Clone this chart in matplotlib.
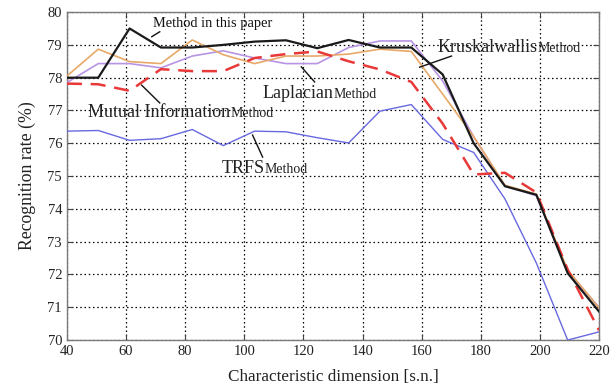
import matplotlib
matplotlib.use("Agg")
import matplotlib.pyplot as plt

plt.rcParams['font.family'] = ['Liberation Serif', 'DejaVu Serif']

dims = [40, 50.6, 61.2, 71.8, 82.4, 92.9, 103.5, 114.1, 124.7, 135.3,
        145.9, 156.5, 167.1, 177.6, 188.2, 198.8, 209.4, 220]

proposed = [78.0, 78.0, 79.5, 78.92, 78.92, 79.0, 79.1, 79.14, 78.9, 79.15,
            78.92, 78.92, 78.1, 76.0, 74.69, 74.43, 72.04, 70.87]
kruskal = [78.05, 78.87, 78.49, 78.43, 79.15, 78.7, 78.43, 78.66, 78.66, 78.72,
           78.87, 78.8, 77.5, 76.2, 74.72, 74.45, 72.14, 70.98]
laplacian = [77.85, 78.43, 78.43, 78.3, 78.66, 78.82, 78.6, 78.43, 78.43, 78.92,
             79.12, 79.12, 77.9, 76.2, 74.7, 74.4, 72.1, 71.0]
mutual = [77.82, 77.8, 77.6, 78.26, 78.2, 78.2, 78.6, 78.72, 78.8, 78.5,
          78.25, 77.87, 76.6, 75.05, 75.1, 74.5, 72.15, 70.3]
trfs = [76.37, 76.39, 76.09, 76.14, 76.42, 75.93, 76.37, 76.35, 76.17, 76.01,
        76.98, 77.18, 76.12, 75.72, 74.3, 72.35, 70.0, 70.25]

xticks = [40, 60, 80, 100, 120, 140, 160, 180, 200, 220]
yticks = [70, 71, 72, 73, 74, 75, 76, 77, 78, 79, 80]

fig = plt.figure(figsize=(6.14, 3.90), dpi=100)
ax = fig.add_axes([0.109, 0.128, 0.8666, 0.841])

ax.plot(dims, trfs, color='#6868E0', lw=1.0, zorder=3)
ax.plot(dims, laplacian, color='#B894E4', lw=1.2, zorder=3)
ax.plot(dims, kruskal, color='#E8A868', lw=1.2, zorder=3)
ax.plot(dims, mutual, color='#E83838', lw=1.8, ls=(0, (6, 3.5)), zorder=4)
ax.plot(dims, proposed, color='#1a1a1a', lw=1.6, zorder=5)

ax.set_xlim(40, 220)
ax.set_ylim(70, 80)
ax.set_xticks(xticks)
ax.set_yticks(yticks)
ax.grid(True, color='black', ls=(0, (1.2, 2.2)), lw=0.9)
ax.tick_params(direction='in', length=4, width=0.8, top=True, right=True,
               labelsize=10.5, colors='#404040', labelcolor='#222222')
for s in ax.spines.values():
    s.set_color('#7a7a7a')
    s.set_linewidth(1.0)

ax.set_xlabel('Characteristic dimension [s.n.]', fontsize=12.3, color='#222222', labelpad=8)
ax.set_ylabel('Recognition rate (%)', fontsize=12.8, color='#222222', labelpad=8)

# annotations
ax.text(69.05, 79.54, 'Method in this paper', fontsize=10.4, va='baseline', ha='left', color='#111111')
ax.plot([68.7, 71.4], [79.25, 79.4], color='#111111', lw=1.0, zorder=6)

labels = [
    ('Kruskalwallis', 165.3, 78.78, (159.3, 170.1), (78.32, 78.66)),
    ('Laplacian', 106.2, 77.38, (119.3, 123.8), (78.33, 77.87)),
    ('Mutual Information', 47.1, 76.8, (65.3, 71.4), (77.77, 77.23)),
    ('TRFS', 92.4, 75.09, (102.8, 106.2), (76.25, 75.58)),
]
mains = []
for name, x, y, lx, ly in labels:
    t = ax.text(x, y, name, fontsize=13.0, va='baseline', ha='left', color='#222222', zorder=7)
    mains.append((t, y))
    ax.plot(lx, ly, color='#111111', lw=1.0, zorder=6)

fig.canvas.draw()
r = fig.canvas.get_renderer()
inv = ax.transData.inverted()
for t, y in mains:
    bb = t.get_window_extent(renderer=r)
    xd = inv.transform((bb.x1, bb.y0))[0]
    ax.text(xd, y, 'Method', fontsize=10.0, va='baseline', ha='left', color='#222222', zorder=7)

fig.savefig('out.png', dpi=100)
